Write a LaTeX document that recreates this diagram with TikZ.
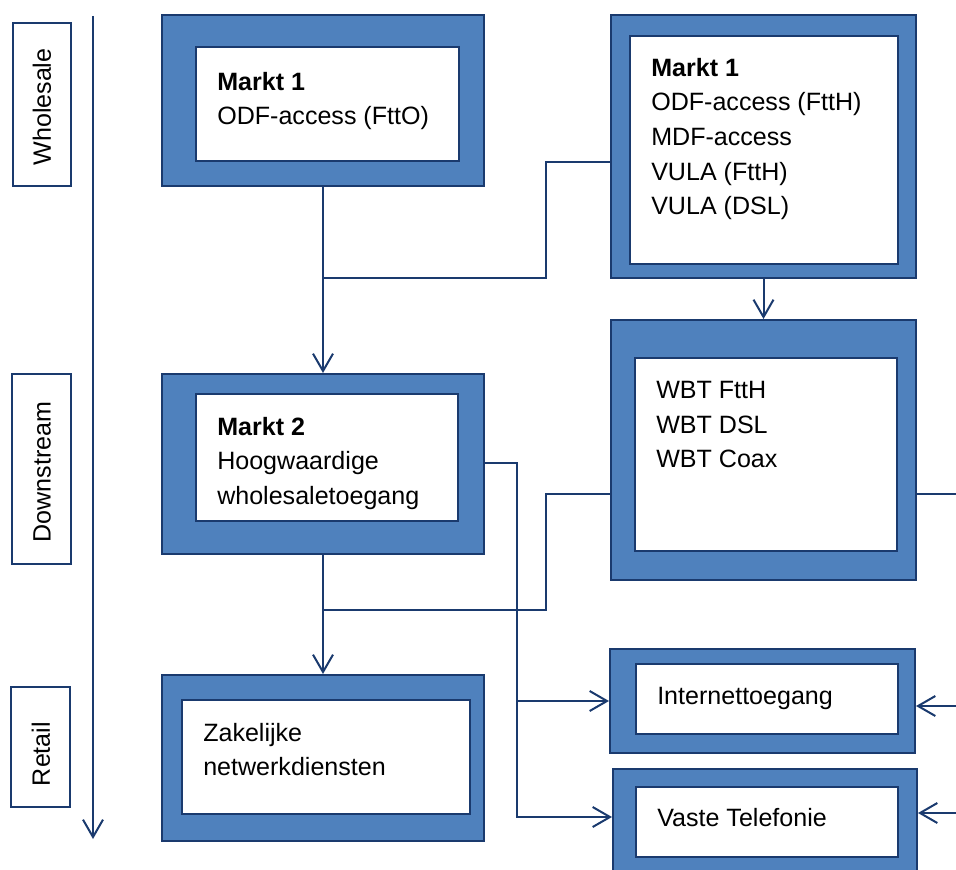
\documentclass[tikz,border=0pt]{standalone}
\usepackage{fontspec}
\setmainfont{Liberation Sans}
\usetikzlibrary{arrows.meta,fit}
\definecolor{navy}{HTML}{1A3A6E}
\definecolor{boxblue}{HTML}{4F81BD}
\begin{document}
\begin{tikzpicture}[x=0.75pt,y=-0.75pt,
  outerbox/.style={draw=navy,line width=1.5pt,fill=boxblue,inner sep=0pt},
  innerbox/.style={draw=navy,line width=2pt,fill=white,inner sep=0pt},
  lblbox/.style={draw=navy,line width=1.5pt,fill=white,inner sep=0pt},
  txt/.style={font=\fontsize{18.8}{25.9}\selectfont,align=left,anchor=north west,inner sep=0pt},
  vtxt/.style={font=\fontsize{18.8}{22}\selectfont,rotate=90,inner sep=0pt},
  conn/.style={draw=navy,line width=1.5pt},
  arr/.style={conn,-{Straight Barb[length=13pt,width=15pt]}}
]
\useasboundingbox (0,0) rectangle (956,870);
\clip (0,0) rectangle (956,870);

% stage labels
\node[lblbox,fit={(13,23)(71,186)}] (lw) {};
\node[vtxt] (lwt) at (42,107) {Wholesale};
\node[lblbox,fit={(12,374)(71,564)}] (ld) {};
\node[vtxt] (ldt) at (42,472) {Downstream};
\node[lblbox,fit={(11,687)(70,807)}] (lr) {};
\node[vtxt] (lrt) at (41,754) {Retail};
\coordinate (vt) at (93,16);
\coordinate (vb) at (93,839);
\draw[arr] (vt) -- (vb);

% boxes
\node[outerbox,fit={(162,15)(484,186)}] (A) {};
\node[innerbox,fit={(196,47)(459,161)}] (Ai) {};
\node[txt] (At) at (217,72) {\textbf{Markt 1}\\ODF-access (FttO)};

\node[outerbox,fit={(611,15)(916,278)}] (B) {};
\node[innerbox,fit={(630,36)(898,264)}] (Bi) {};
\node[txt] (Bt) at (651,58) {\textbf{Markt 1}\\ODF-access (FttH)\\MDF-access\\VULA (FttH)\\VULA (DSL)};

\node[outerbox,fit={(162,374)(484,554)}] (C) {};
\node[innerbox,fit={(196,394)(458,521)}] (Ci) {};
\node[txt] (Ct) at (217,417) {\textbf{Markt 2}\\Hoogwaardige\\wholesaletoegang};

\node[outerbox,fit={(611,320)(916,580)}] (D) {};
\node[innerbox,fit={(635,358)(897,551)}] (Di) {};
\node[txt] (Dt) at (656,381) {WBT FttH\\WBT DSL\\WBT Coax};

\node[outerbox,fit={(162,675)(484,841)}] (E) {};
\node[innerbox,fit={(182,700)(470,814)}] (Ei) {};
\node[txt] (Et) at (203,723) {Zakelijke\\netwerkdiensten};

\node[outerbox,fit={(610,649)(915,753)}] (F) {};
\node[innerbox,fit={(636,664)(898,734)}] (Fi) {};
\node[txt] (Ft) at (657,687) {Internettoegang};

\node[outerbox,fit={(613,769)(917,877)}] (G) {};
\node[innerbox,fit={(636,787)(898,857)}] (Gi) {};
\node[txt] (Gt) at (657,808) {Vaste Telefonie};

% connectors
\draw[arr] (A) -- (C);
\coordinate (j1) at (546,162);
\coordinate (j2) at (546,278);
\draw[conn] (B.west |- j1) -- (j1) -- (j2) -- (A.south |- j2);
\draw[arr] (B) -- (D);
\draw[arr] (C) -- (E);
\coordinate (j3) at (546,494);
\coordinate (j4) at (546,610);
\draw[conn] (D.west |- j3) -- (j3) -- (j4) -- (C.south |- j4);
\coordinate (r1) at (960,494);
\draw[conn] (D.east |- r1) -- (r1);
\coordinate (j5) at (517,463);
\coordinate (j6) at (517,701);
\coordinate (j7) at (517,817);
\draw[arr] (C.east |- j5) -- (j5) -- (j7) -- (G.west |- j7);
\draw[arr] (j6) -- (F.west |- j6);
\coordinate (r2) at (962,706);
\draw[arr] (r2) -- (F.east |- r2);
\coordinate (r3) at (962,813);
\draw[arr] (r3) -- (G.east |- r3);
\end{tikzpicture}
\end{document}
